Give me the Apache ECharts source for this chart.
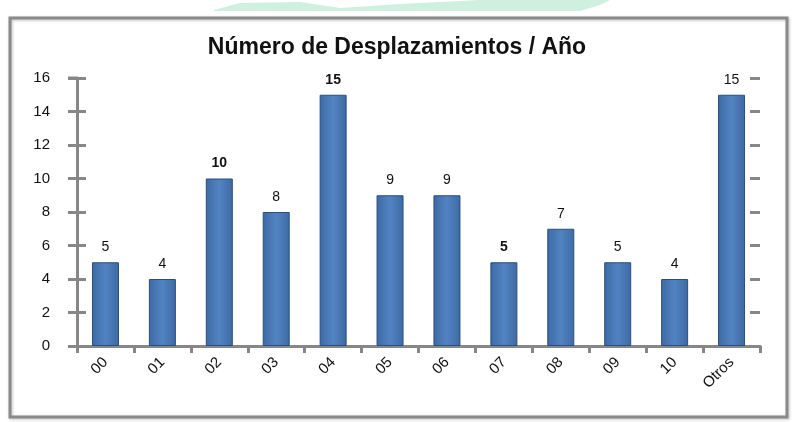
<!DOCTYPE html>
<html lang="es">
<head>
    <meta charset="UTF-8">
    <title>Número de Desplazamientos / Año</title>
    <script src="https://cdn.jsdelivr.net/npm/echarts@6/dist/echarts.min.js"></script>
    <style type="text/css">
        html, body { margin: 0; padding: 0; background: #fff; }
        #chart { width: 794px; height: 422px; }
    </style>
</head>
<body>
<div id="chart"></div>
<script type="text/javascript">
    // datos
    var categorias = ['00', '01', '02', '03', '04', '05', '06', '07', '08', '09', '10', 'Otros'];
    var valores = [5, 4, 10, 8, 15, 9, 9, 5, 7, 5, 4, 15];
    var negritas = [false, false, true, false, true, false, false, true, false, false, false, false];
    var titulo = 'Número de Desplazamientos / Año';

    var chart = echarts.init(document.getElementById('chart'));
    var gris = '#878787';

    var barFill = new echarts.graphic.LinearGradient(0, 0, 1, 0, [
        {offset: 0, color: '#3d6aa3'},
        {offset: 0.5, color: '#5283c2'},
        {offset: 1, color: '#3d6aa3'}
    ]);

    var datos = valores.map(function (v, i) {
        return {
            value: v,
            label: {fontWeight: negritas[i] ? 'bold' : 'normal'}
        };
    });

    var option = {
        animation: false,
        title: {
            text: titulo,
            left: 'center',
            top: 31,
            textStyle: {fontFamily: 'Liberation Sans', fontSize: 23, fontWeight: 'bold', color: '#111'}
        },
        grid: {left: 77, right: 34, top: 78, bottom: 76},
        xAxis: [{
            type: 'category',
            data: categorias,
            axisLine: {lineStyle: {color: gris, width: 3}},
            axisTick: {show: true, length: 7, lineStyle: {color: gris, width: 3}},
            axisLabel: {
                rotate: 45, margin: 14, color: '#111',
                fontFamily: 'Liberation Sans', fontSize: 15
            }
        }, {
            type: 'category',
            data: categorias,
            position: 'top',
            axisLine: {lineStyle: {color: gris, width: 3}},
            axisTick: {show: false},
            axisLabel: {show: false}
        }],
        yAxis: [{
            type: 'value',
            min: 0, max: 16, interval: 2,
            axisLine: {show: true, lineStyle: {color: gris, width: 3}},
            axisTick: {show: true, length: 9, lineStyle: {color: gris, width: 3}},
            axisLabel: {margin: 27, color: '#111', fontFamily: 'Liberation Sans', fontSize: 15},
            splitLine: {show: false}
        }, {
            type: 'value',
            position: 'left',
            min: 0, max: 16, interval: 2,
            axisLine: {show: false},
            axisTick: {show: true, inside: true, length: 9, lineStyle: {color: gris, width: 3}},
            axisLabel: {show: false},
            splitLine: {show: false}
        }, {
            type: 'value',
            position: 'right',
            min: 0, max: 16, interval: 2,
            axisLine: {show: false},
            axisTick: {show: true, inside: true, length: 10, lineStyle: {color: gris, width: 3}},
            axisLabel: {show: false},
            splitLine: {show: false}
        }],
        graphic: [{
            type: 'polygon',
            shape: {points: [[214, 10], [240, 3], [300, 2], [340, 8], [400, 4], [480, 0], [560, 0], [610, 0], [600, 5], [580, 11], [214, 11]]},
            style: {fill: '#cfefdf'},
            z: -1
        }, {
            type: 'line',
            shape: {x1: 68, y1: 78, x2: 77, y2: 78},
            style: {stroke: gris, lineWidth: 3}
        }, {
            type: 'rect',
            shape: {x: 10, y: 18, width: 777, height: 399},
            style: {fill: 'none', stroke: '#8a8a8a', lineWidth: 3, shadowBlur: 3, shadowColor: 'rgba(0,0,0,0.25)', shadowOffsetX: 1, shadowOffsetY: 1},
            z: 10
        }],
        series: [{
            type: 'bar',
            data: datos,
            barWidth: 27,
            itemStyle: {
                color: barFill,
                borderColor: '#2b4e7c',
                borderWidth: 1
            },
            label: {
                show: true,
                position: 'top',
                distance: 8,
                color: '#111',
                fontFamily: 'Liberation Sans',
                fontSize: 14
            }
        }]
    };
    chart.setOption(option);
</script>
</body>
</html>
